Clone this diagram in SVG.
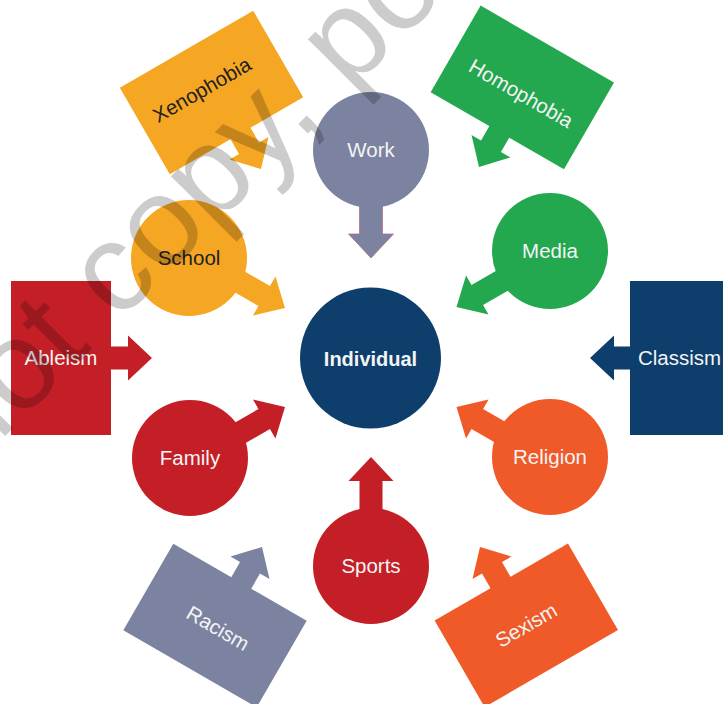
<svg xmlns="http://www.w3.org/2000/svg" xmlns:xlink="http://www.w3.org/1999/xlink" width="723" height="704" viewBox="0 0 723 704">
<defs>
<style>
.lbl{font-family:"Liberation Sans",Arial,sans-serif;font-size:20.5px;text-anchor:middle;fill:#f4f4f4}
.dark{fill:#231f20}
.bold{font-weight:bold;font-size:20px}
.start{text-anchor:start}
.navy{fill:#0e3e6c}.slate{fill:#7b83a0}.green{fill:#23a84f}.orange{fill:#f5a623}.red{fill:#c41f27}.coral{fill:#f05a28}
.wm{font-family:"Liberation Sans",Arial,sans-serif;font-size:126px;fill:#000;fill-opacity:0.2}
</style>
<path id="arr" d="M0,0 L-24,-22.5 L-24,-11.5 L-64,-11.5 L-64,11.5 L-24,11.5 L-24,22.5 Z"/>
</defs>
<rect width="723" height="704" fill="#fff"/>
<g id="connectors">
<use href="#arr" class="slate" transform="translate(371,258) rotate(90)" stroke="#b86f8a" stroke-width="0.8"/>
<use href="#arr" class="green" transform="translate(456.5,307) rotate(150)"/>
<use href="#arr" class="orange" transform="translate(285,308) rotate(30)"/>
<use href="#arr" class="red" transform="translate(285,407) rotate(-30)"/>
<use href="#arr" class="coral" transform="translate(456.5,407) rotate(-150)"/>
<use href="#arr" class="red" transform="translate(371,457) rotate(-90)"/>
<use href="#arr" class="red" transform="translate(152,358)"/>
<use href="#arr" class="navy" transform="translate(590,358) rotate(180)"/>
<use href="#arr" class="orange" transform="translate(261,169) rotate(60)"/>
<use href="#arr" class="green" transform="translate(479,167) rotate(120)"/>
<use href="#arr" class="slate" transform="translate(262,547) rotate(-60)"/>
<use href="#arr" class="coral" transform="translate(480,547) rotate(-120)"/>
</g>
<g id="individual"><circle cx="370.5" cy="358" r="70.5" class="navy"/><text x="370.5" y="366" class="lbl bold">Individual</text></g>
<g id="work"><circle cx="371" cy="150" r="58" class="slate"/><text x="371" y="157" class="lbl">Work</text></g>
<g id="media"><circle cx="550" cy="251" r="58" class="green"/><text x="550" y="258" class="lbl">Media</text></g>
<g id="school"><circle cx="189" cy="258" r="58" class="orange"/><text x="189" y="265" class="lbl dark">School</text></g>
<g id="family"><circle cx="190" cy="458" r="58" class="red"/><text x="190" y="465" class="lbl">Family</text></g>
<g id="religion"><circle cx="550" cy="457" r="58" class="coral"/><text x="550" y="464" class="lbl">Religion</text></g>
<g id="sports"><circle cx="371" cy="566" r="58" class="red"/><text x="371" y="573" class="lbl">Sports</text></g>
<g id="ableism"><rect x="11" y="281" width="100" height="154" class="red"/><text x="61" y="365" class="lbl">Ableism</text></g>
<g id="classism"><rect x="630" y="281" width="100" height="154" class="navy"/><text x="638" y="365" class="lbl start">Classism</text></g>
<g id="xenophobia" transform="translate(211.5,92.5) rotate(-30)"><rect x="-77" y="-50" width="154" height="100" class="orange"/><text x="-7" y="0" class="lbl dark">Xenophobia</text></g>
<g id="homophobia" transform="translate(522.3,87.4) rotate(30)"><rect x="-77" y="-50" width="154" height="100" class="green"/><text x="2" y="13" class="lbl">Homophobia</text></g>
<g id="racism" transform="translate(215,625.5) rotate(30)"><rect x="-77" y="-50" width="154" height="100" class="slate"/><text x="4" y="8" class="lbl">Racism</text></g>
<g id="sexism" transform="translate(526.3,625.3) rotate(-30)"><rect x="-77" y="-50" width="154" height="100" class="coral"/><text x="0" y="7" class="lbl">Sexism</text></g>
<text class="wm" transform="translate(-169.4,610.6) rotate(-45)">Do not copy, post, or distribute</text>
</svg>
